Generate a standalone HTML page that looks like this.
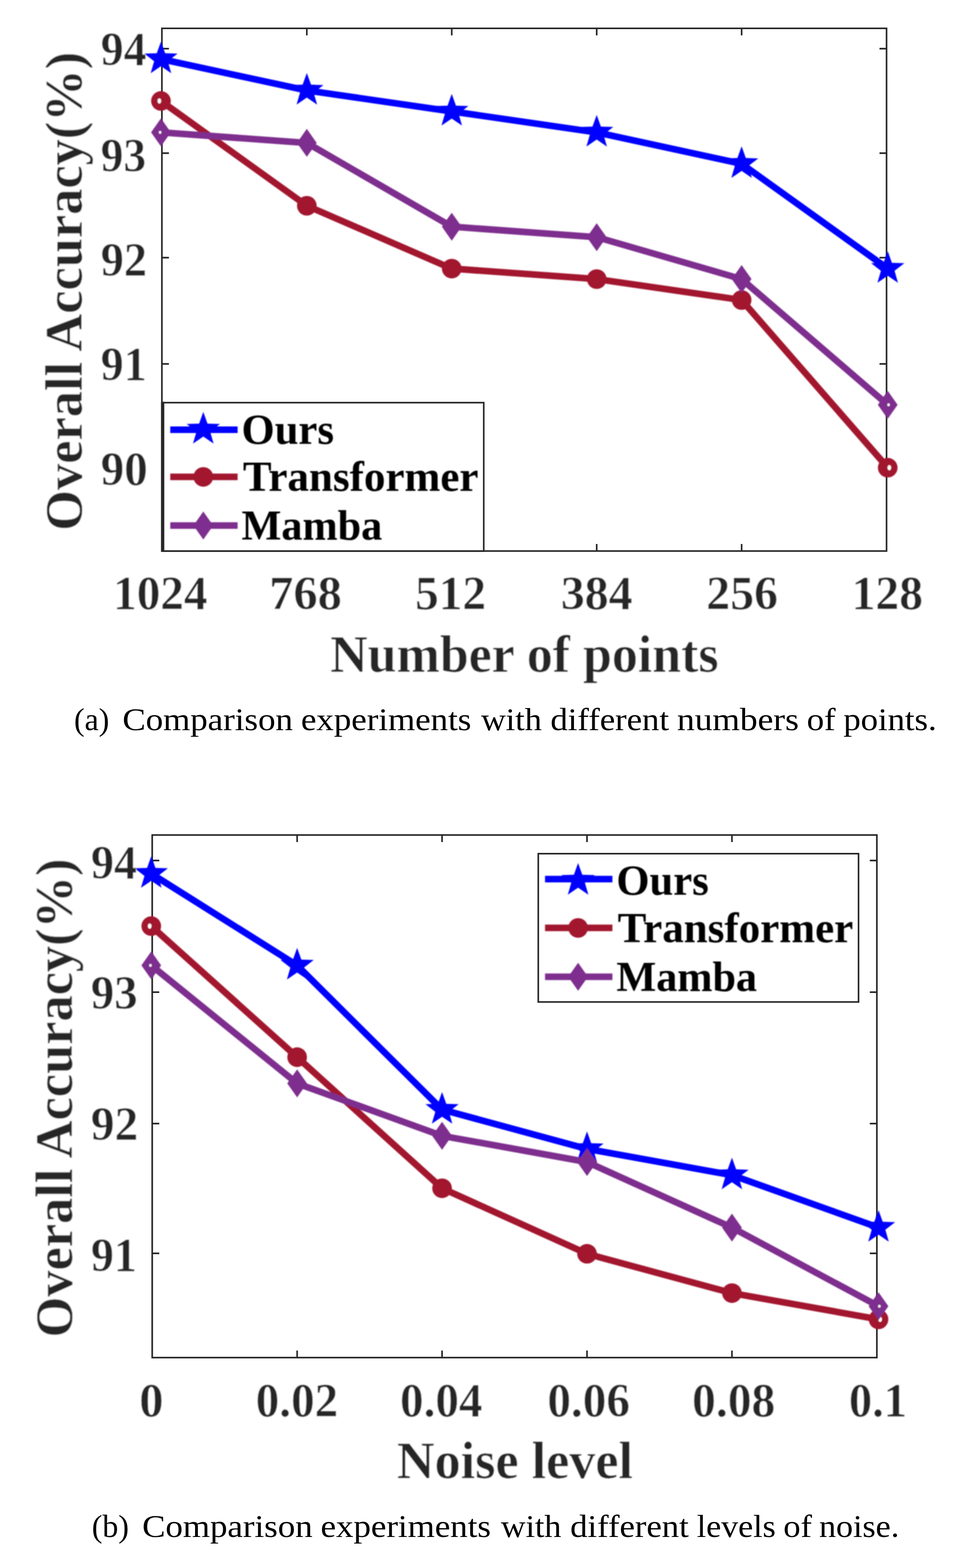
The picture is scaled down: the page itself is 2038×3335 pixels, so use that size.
<!DOCTYPE html>
<html lang="en">
<head>
<meta charset="utf-8">
<title>Comparison experiments with different numbers of points and levels of noise</title>
<style>
html,body{margin:0;padding:0;background:#fff}
body{width:2038px;height:3335px;overflow:hidden}
svg{display:block}
text{font-family:"Liberation Serif","Times New Roman",Times,serif;white-space:pre}
.tk,.lb{font-weight:bold;stroke:#fff;stroke-width:0.7px;stroke-linejoin:round}
.tk{font-size:102.6px;fill:#262626}
.lb{font-size:113px;fill:#262626}
.lg{font-size:91.5px;font-weight:bold;fill:#000}
.cap{font-size:67.5px;fill:#000}
</style>
</head>
<body>
<svg width="2038" height="3335" viewBox="0 0 2038 3335">
<defs><filter id="soft" x="-2%" y="-2%" width="104%" height="104%"><feGaussianBlur stdDeviation="0.90"/></filter><filter id="crisp" x="-2%" y="-2%" width="104%" height="104%"><feGaussianBlur stdDeviation="0.45"/></filter></defs><rect width="2038" height="3335" fill="#fff"/>
<g id="chart-a">
<g filter="url(#crisp)">
<g stroke="#262626" stroke-width="3.4" fill="none">
<rect x="344.4" y="60.3" width="1541.6" height="1111.7"/>
<path d="M652.7 1172.0v-15.0M652.7 60.3v15.0M961.0 1172.0v-15.0M961.0 60.3v15.0M1269.4 1172.0v-15.0M1269.4 60.3v15.0M1577.7 1172.0v-15.0M1577.7 60.3v15.0M344.4 103.5h15.0M1886.0 103.5h-15.0M344.4 325.7h15.0M1886.0 325.7h-15.0M344.4 548.0h15.0M1886.0 548.0h-15.0M344.4 774.0h15.0M1886.0 774.0h-15.0M344.4 996.0h15.0M1886.0 996.0h-15.0"/>
</g>
</g>
<g filter="url(#soft)">
<g><polyline points="342.4,125.6 652.7,192.4 961.0,237.0 1269.4,281.6 1577.7,348.4 1888.5,571.3" fill="none" stroke="#0000ff" stroke-width="14.0" stroke-linejoin="round"/>
<polygon points="342.4,88.4 351.3,113.3 377.8,114.1 356.9,130.3 364.3,155.7 342.4,140.8 320.5,155.7 327.9,130.3 307.0,114.1 333.5,113.3" fill="#0000ff"/>
<polygon points="652.7,155.2 661.7,180.1 688.1,180.9 667.2,197.1 674.6,222.5 652.7,207.6 630.9,222.5 638.3,197.1 617.3,180.9 643.8,180.1" fill="#0000ff"/>
<polygon points="961.0,199.8 970.0,224.7 996.4,225.5 975.5,241.7 982.9,267.1 961.0,252.2 939.2,267.1 946.6,241.7 925.7,225.5 952.1,224.7" fill="#0000ff"/>
<polygon points="1269.4,244.4 1278.3,269.3 1304.7,270.1 1283.8,286.3 1291.2,311.7 1269.4,296.8 1247.5,311.7 1254.9,286.3 1234.0,270.1 1260.4,269.3" fill="#0000ff"/>
<polygon points="1577.7,311.2 1586.6,336.1 1613.1,336.9 1592.1,353.1 1599.5,378.5 1577.7,363.6 1555.8,378.5 1563.2,353.1 1542.3,336.9 1568.7,336.1" fill="#0000ff"/>
<polygon points="1888.5,534.1 1897.4,559.0 1923.9,559.8 1903.0,576.0 1910.4,601.4 1888.5,586.5 1866.6,601.4 1874.0,576.0 1853.1,559.8 1879.6,559.0" fill="#0000ff"/>
</g>
<g><polyline points="342.4,214.7 652.7,437.6 961.0,571.3 1269.4,593.6 1577.7,638.1 1888.5,994.7" fill="none" stroke="#a2142f" stroke-width="14.0" stroke-linejoin="round"/>
<circle cx="342.4" cy="214.7" r="20.9" fill="#a2142f"/><ellipse cx="339.0" cy="214.7" rx="3.8" ry="5.5" fill="#fff"/>
<circle cx="652.7" cy="437.6" r="20.9" fill="#a2142f"/>
<circle cx="961.0" cy="571.3" r="20.9" fill="#a2142f"/>
<circle cx="1269.4" cy="593.6" r="20.9" fill="#a2142f"/>
<circle cx="1577.7" cy="638.1" r="20.9" fill="#a2142f"/>
<circle cx="1888.5" cy="994.7" r="20.9" fill="#a2142f"/><ellipse cx="1891.9" cy="994.7" rx="3.8" ry="5.5" fill="#fff"/>
</g>
<g><polyline points="342.4,281.6 652.7,303.9 961.0,482.1 1269.4,504.4 1577.7,593.6 1888.5,861.0" fill="none" stroke="#7e2f8e" stroke-width="14.0" stroke-linejoin="round"/>
<polygon points="342.4,251.8 363.4,281.6 342.4,311.3 321.4,281.6" fill="#7e2f8e"/><ellipse cx="340.6" cy="281.6" rx="2.6" ry="3.0" fill="#fff"/>
<polygon points="652.7,274.1 673.7,303.9 652.7,333.6 631.7,303.9" fill="#7e2f8e"/>
<polygon points="961.0,452.4 982.0,482.1 961.0,511.9 940.0,482.1" fill="#7e2f8e"/>
<polygon points="1269.4,474.7 1290.4,504.4 1269.4,534.2 1248.4,504.4" fill="#7e2f8e"/>
<polygon points="1577.7,563.8 1598.7,593.6 1577.7,623.3 1556.7,593.6" fill="#7e2f8e"/>
<polygon points="1888.5,831.2 1909.5,861.0 1888.5,890.7 1867.5,861.0" fill="#7e2f8e"/><ellipse cx="1890.3" cy="861.0" rx="2.6" ry="3.0" fill="#fff"/>
</g>
</g>
<g filter="url(#crisp)">
<rect x="342.7" y="854.7" width="7.1" height="319.0" fill="#262626"/>
<rect x="347.8" y="856.4" width="681.3" height="315.6" fill="#fff" stroke="#262626" stroke-width="3.4"/>
</g>
<g filter="url(#soft)">
<line x1="362.2" y1="914.1" x2="505.5" y2="914.1" stroke="#0000ff" stroke-width="14.0"/>
<polygon points="432.5,876.1 441.4,901.0 467.9,901.8 447.0,918.0 454.4,943.4 432.5,928.5 410.6,943.4 418.0,918.0 397.1,901.8 423.6,901.0" fill="#0000ff"/>
<line x1="362.2" y1="1014.3" x2="505.5" y2="1014.3" stroke="#a2142f" stroke-width="14.0"/>
<circle cx="432.5" cy="1014.3" r="20.9" fill="#a2142f"/>
<line x1="362.2" y1="1117.7" x2="505.5" y2="1117.7" stroke="#7e2f8e" stroke-width="14.0"/>
<polygon points="432.5,1088.0 453.5,1117.7 432.5,1147.5 411.5,1117.7" fill="#7e2f8e"/>
<text class="tk" transform="translate(214.30 138.60) scale(0.9497 1)">94</text>
<text class="tk" transform="translate(214.33 364.90) scale(0.9409 1)">93</text>
<text class="tk" transform="translate(214.27 587.10) scale(0.9621 1)">92</text>
<text class="tk" transform="translate(214.29 809.10) scale(0.9531 1)">91</text>
<text class="tk" transform="translate(214.23 1032.10) scale(0.9748 1)">90</text>
<text class="tk" transform="translate(240.74 1296.00) scale(0.9779 1)">1024</text>
<text class="tk" transform="translate(572.62 1296.00) scale(1.0052 1)">768</text>
<text class="tk" transform="translate(882.88 1296.00) scale(0.9821 1)">512</text>
<text class="tk" transform="translate(1192.88 1296.00) scale(0.9936 1)">384</text>
<text class="tk" transform="translate(1502.59 1296.00) scale(0.9908 1)">256</text>
<text class="tk" transform="translate(1811.66 1296.00) scale(0.9869 1)">128</text>
<text class="lb" transform="translate(702.56 1428.55) scale(0.9771 1)">Number of points</text>
<text class="lb" transform="translate(173.95 1128.87) rotate(-90) scale(0.9868 1)">Overall Accuracy(%)</text>
<text class="lg" transform="translate(513.84 943.70) scale(0.9916 1)">Ours</text>
<text class="lg" transform="translate(516.80 1044.30) scale(0.9994 1)">Transformer</text>
<text class="lg" transform="translate(513.83 1148.40) scale(0.9818 1)">Mamba</text>
</g>
</g>
<g id="caption-a">
<text class="cap" transform="translate(157.60 1553.10) scale(1.0000 1)">(a)</text>
<text class="cap" transform="translate(260.48 1553.10) scale(1.0989 1)">Comparison</text>
<text class="cap" transform="translate(640.18 1553.10) scale(1.0990 1)">experiments</text>
<text class="cap" transform="translate(1023.40 1553.10) scale(1.0765 1)">with</text>
<text class="cap" transform="translate(1170.97 1553.10) scale(1.0909 1)">different</text>
<text class="cap" transform="translate(1440.33 1553.10) scale(1.1147 1)">numbers</text>
<text class="cap" transform="translate(1716.17 1553.10) scale(1.0940 1)">of</text>
<text class="cap" transform="translate(1794.21 1553.10) scale(1.0912 1)">points.</text>
</g>
<g id="chart-b">
<g filter="url(#crisp)">
<g stroke="#262626" stroke-width="3.4" fill="none">
<rect x="323.8" y="1776.0" width="1541.6" height="1111.5"/>
<path d="M632.1 2887.5v-15.0M632.1 1776.0v15.0M940.4 2887.5v-15.0M940.4 1776.0v15.0M1248.8 2887.5v-15.0M1248.8 1776.0v15.0M1557.1 2887.5v-15.0M1557.1 1776.0v15.0M323.8 1830.3h15.0M1865.4 1830.3h-15.0M323.8 2110.2h15.0M1865.4 2110.2h-15.0M323.8 2389.7h15.0M1865.4 2389.7h-15.0M323.8 2665.7h15.0M1865.4 2665.7h-15.0"/>
</g>
</g>
<g filter="url(#soft)">
<g><polyline points="321.8,1858.2 632.1,2053.3 940.4,2360.0 1248.8,2443.7 1557.1,2499.4 1868.9,2610.9" fill="none" stroke="#0000ff" stroke-width="14.0" stroke-linejoin="round"/>
<polygon points="321.8,1821.0 330.7,1845.9 357.2,1846.7 336.3,1862.9 343.7,1888.3 321.8,1873.4 299.9,1888.3 307.3,1862.9 286.4,1846.7 312.9,1845.9" fill="#0000ff"/>
<polygon points="632.1,2016.1 641.1,2041.0 667.5,2041.8 646.6,2058.0 654.0,2083.4 632.1,2068.5 610.3,2083.4 617.7,2058.0 596.7,2041.8 623.2,2041.0" fill="#0000ff"/>
<polygon points="940.4,2322.8 949.4,2347.7 975.8,2348.5 954.9,2364.7 962.3,2390.1 940.4,2375.2 918.6,2390.1 926.0,2364.7 905.1,2348.5 931.5,2347.7" fill="#0000ff"/>
<polygon points="1248.8,2406.5 1257.7,2431.4 1284.1,2432.2 1263.2,2448.4 1270.6,2473.8 1248.8,2458.9 1226.9,2473.8 1234.3,2448.4 1213.4,2432.2 1239.8,2431.4" fill="#0000ff"/>
<polygon points="1557.1,2462.2 1566.0,2487.1 1592.5,2487.9 1571.5,2504.1 1578.9,2529.5 1557.1,2514.6 1535.2,2529.5 1542.6,2504.1 1521.7,2487.9 1548.1,2487.1" fill="#0000ff"/>
<polygon points="1868.9,2573.7 1877.8,2598.6 1904.3,2599.4 1883.4,2615.6 1890.8,2641.0 1868.9,2626.1 1847.0,2641.0 1854.4,2615.6 1833.5,2599.4 1860.0,2598.6" fill="#0000ff"/>
</g>
<g><polyline points="321.8,1969.7 632.1,2248.5 940.4,2527.3 1248.8,2666.7 1557.1,2750.3 1868.9,2806.1" fill="none" stroke="#a2142f" stroke-width="14.0" stroke-linejoin="round"/>
<circle cx="321.8" cy="1969.7" r="20.9" fill="#a2142f"/><ellipse cx="318.4" cy="1969.7" rx="3.8" ry="5.5" fill="#fff"/>
<circle cx="632.1" cy="2248.5" r="20.9" fill="#a2142f"/>
<circle cx="940.4" cy="2527.3" r="20.9" fill="#a2142f"/>
<circle cx="1248.8" cy="2666.7" r="20.9" fill="#a2142f"/>
<circle cx="1557.1" cy="2750.3" r="20.9" fill="#a2142f"/>
<circle cx="1868.9" cy="2806.1" r="20.9" fill="#a2142f"/><ellipse cx="1872.3" cy="2806.1" rx="3.8" ry="5.5" fill="#fff"/>
</g>
<g><polyline points="321.8,2053.3 632.1,2304.3 940.4,2415.8 1248.8,2471.5 1557.1,2610.9 1868.9,2778.2" fill="none" stroke="#7e2f8e" stroke-width="14.0" stroke-linejoin="round"/>
<polygon points="321.8,2023.6 342.8,2053.3 321.8,2083.1 300.8,2053.3" fill="#7e2f8e"/><ellipse cx="320.0" cy="2053.3" rx="2.6" ry="3.0" fill="#fff"/>
<polygon points="632.1,2274.5 653.1,2304.3 632.1,2334.0 611.1,2304.3" fill="#7e2f8e"/>
<polygon points="940.4,2386.0 961.4,2415.8 940.4,2445.5 919.4,2415.8" fill="#7e2f8e"/>
<polygon points="1248.8,2441.8 1269.8,2471.5 1248.8,2501.3 1227.8,2471.5" fill="#7e2f8e"/>
<polygon points="1557.1,2581.2 1578.1,2610.9 1557.1,2640.7 1536.1,2610.9" fill="#7e2f8e"/>
<polygon points="1868.9,2748.5 1889.9,2778.2 1868.9,2808.0 1847.9,2778.2" fill="#7e2f8e"/><ellipse cx="1870.7" cy="2778.2" rx="2.6" ry="3.0" fill="#fff"/>
</g>
</g>
<g filter="url(#crisp)">
<rect x="1145.1" y="1815.7" width="681.3" height="315.4" fill="#fff" stroke="#262626" stroke-width="3.4"/>
</g>
<g filter="url(#soft)">
<line x1="1159.5" y1="1869.7" x2="1302.8" y2="1869.7" stroke="#0000ff" stroke-width="14.0"/>
<polygon points="1229.8,1835.6 1238.7,1860.5 1265.2,1861.3 1244.3,1877.5 1251.7,1902.9 1229.8,1888.0 1207.9,1902.9 1215.3,1877.5 1194.4,1861.3 1220.9,1860.5" fill="#0000ff"/>
<line x1="1159.5" y1="1973.6" x2="1302.8" y2="1973.6" stroke="#a2142f" stroke-width="14.0"/>
<circle cx="1229.8" cy="1973.6" r="20.9" fill="#a2142f"/>
<line x1="1159.5" y1="2077.4" x2="1302.8" y2="2077.4" stroke="#7e2f8e" stroke-width="14.0"/>
<polygon points="1229.8,2047.7 1250.8,2077.4 1229.8,2107.2 1208.8,2077.4" fill="#7e2f8e"/>
<text class="tk" transform="translate(193.38 1869.20) scale(0.9569 1)">94</text>
<text class="tk" transform="translate(193.34 2145.60) scale(0.9692 1)">93</text>
<text class="tk" transform="translate(193.30 2425.20) scale(0.9821 1)">92</text>
<text class="tk" transform="translate(193.39 2704.40) scale(0.9531 1)">91</text>
<text class="tk" transform="translate(296.17 3012.50) scale(1.0070 1)">0</text>
<text class="tk" transform="translate(544.00 3012.50) scale(0.9769 1)">0.02</text>
<text class="tk" transform="translate(851.10 3012.50) scale(0.9760 1)">0.04</text>
<text class="tk" transform="translate(1164.39 3012.50) scale(0.9785 1)">0.06</text>
<text class="tk" transform="translate(1472.36 3012.50) scale(0.9863 1)">0.08</text>
<text class="tk" transform="translate(1806.06 3012.50) scale(0.9620 1)">0.1</text>
<text class="lb" transform="translate(844.25 3143.75) scale(0.9823 1)">Noise level</text>
<text class="lb" transform="translate(153.25 2844.67) rotate(-90) scale(0.9868 1)">Overall Accuracy(%)</text>
<text class="lg" transform="translate(1311.14 1903.00) scale(0.9916 1)">Ours</text>
<text class="lg" transform="translate(1314.10 2003.60) scale(0.9994 1)">Transformer</text>
<text class="lg" transform="translate(1311.13 2107.70) scale(0.9818 1)">Mamba</text>
</g>
</g>
<g id="caption-b">
<text class="cap" transform="translate(195.29 3269.40) scale(1.0034 1)">(b)</text>
<text class="cap" transform="translate(302.48 3269.40) scale(1.0992 1)">Comparison</text>
<text class="cap" transform="translate(681.88 3269.40) scale(1.0990 1)">experiments</text>
<text class="cap" transform="translate(1065.70 3269.40) scale(1.0706 1)">with</text>
<text class="cap" transform="translate(1212.97 3269.40) scale(1.0909 1)">different</text>
<text class="cap" transform="translate(1482.27 3269.40) scale(1.0673 1)">levels</text>
<text class="cap" transform="translate(1666.60 3269.40) scale(1.0809 1)">of</text>
<text class="cap" transform="translate(1742.39 3269.40) scale(1.0710 1)">noise.</text>
</g>
</svg>
</body>
</html>
